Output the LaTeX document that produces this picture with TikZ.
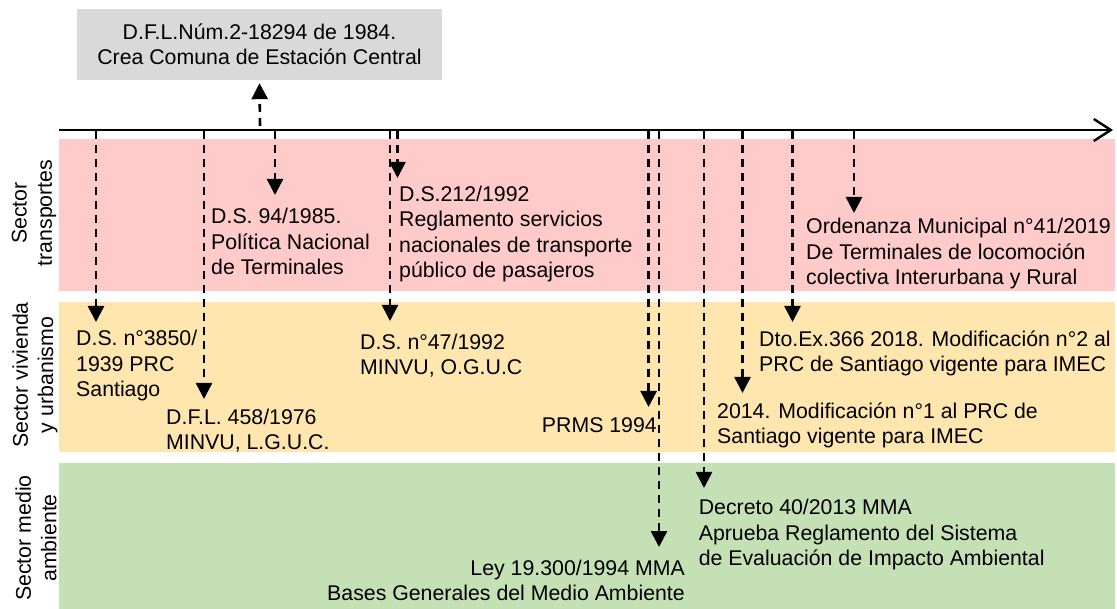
\documentclass[tikz,border=0pt]{standalone}
\usepackage{fontspec}
\setmainfont{Liberation Sans}
\definecolor{trpink}{RGB}{255, 202, 202}
\definecolor{vivyellow}{RGB}{255, 230, 175}
\definecolor{ambgreen}{RGB}{197, 224, 180}
\definecolor{decgray}{RGB}{217, 217, 217}
\usetikzlibrary{arrows.meta, positioning}

\begin{document}
\begin{tikzpicture}[x=1pt, y=-1pt,
    every node/.style={font=\fontsize{21.3}{25.3}\selectfont, inner sep=0pt},
    evt/.style={line width=2.6pt, dash pattern=on 8pt off 6pt, -{Triangle[width=16pt, length=16pt]}},
    law/.style={align=left, anchor=base west},
    sector/.style={rotate=90, align=center}]
  \useasboundingbox (0,0) rectangle (1117,609);

  % sector bands
  \fill[trpink] (59,139) rectangle (1115,291);
  \fill[vivyellow] (59,302) rectangle (1115,452);
  \fill[ambgreen] (59,463) rectangle (1115,609);

  \node[sector] (strans) at (34,213) {Sector\\transportes};
  \node[sector] (sviv) at (35,375) {Sector vivienda\\y urbanismo};
  \node[sector] (samb) at (36,538) {Sector medio\\ambiente};

  % time axis
  \coordinate (tlstart) at (59,130);
  \coordinate (tlend) at (1113,130);
  \draw[line width=2.4pt, -{Straight Barb[length=17pt, width=22pt]}] (tlstart) -- (tlend);

  % comuna
  \node[fill=decgray, minimum width=365pt, minimum height=71pt, align=center] (dfl) at (259.5,44.5)
    {D.F.L.Núm.2-18294 de 1984.\\Crea Comuna de Estación Central};
  \coordinate (top-dfl) at (260,126);
  \draw[evt] (top-dfl) -- ([yshift=-3pt]dfl.south);

  % events on the axis
  \foreach \n/\x/\y in {dsa/96/322, dfla/204/399, dsb/275/195, dsc/390/321, dsd/397.5/178,
                        prms/648.6/407, ley/659/547, dec/704/488, modb/742.5/393,
                        moda/792.5/322, ord/854/213}
    \draw[evt] (\x,131) coordinate (top-\n) -- (\x,\y) coordinate (tip-\n);

  % transportes (placed at the baseline of the last line)
  \node[law] (dsb) at (211,274.5) {D.S. 94/1985.\\Política Nacional\\de Terminales};
  \node[law] (dsd) at (399,277.5) {D.S.212/1992\\Reglamento servicios\\nacionales de transporte\\público de pasajeros};
  \node[law] (ord) at (806,284.5) {Ordenanza Municipal n°41/2019\\De Terminales de locomoción\\colectiva Interurbana y Rural};

  % vivienda y urbanismo
  \node[law] (dsa) at (76,396.5) {D.S. n°3850/\\1939 PRC\\Santiago};
  \node[law] (dfla) at (166,449.5) {D.F.L. 458/1976\\MINVU, L.G.U.C.};
  \node[law] (dsc) at (360,374.5) {D.S. n°47/1992\\MINVU, O.G.U.C};
  \node[anchor=base east] (prms) at (657,432.5) {PRMS 1994};
  \node[law] (modb) at (717,443.5) {2014. Modificación n°1 al PRC de\\Santiago vigente para IMEC};
  \node[law] (moda) at (759,371.5) {Dto.Ex.366 2018. Modificación n°2 al\\PRC de Santiago vigente para IMEC};

  % medio ambiente
  \node[align=right, anchor=base east] (ley) at (685,600.5) {Ley 19.300/1994 MMA\\Bases Generales del Medio Ambiente};
  \node[law] (dec) at (698.6,565.5) {Decreto 40/2013 MMA\\Aprueba Reglamento del Sistema\\de Evaluación de Impacto Ambiental};
\end{tikzpicture}
\end{document}
